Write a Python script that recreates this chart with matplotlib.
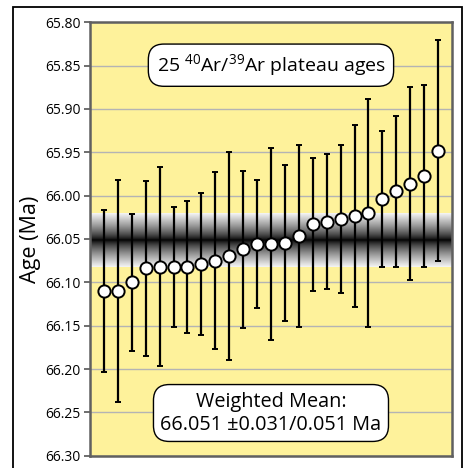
import numpy as np
import matplotlib.pyplot as plt
from matplotlib.patches import Rectangle

plt.rcParams['font.family'] = ['Open Sans', 'DejaVu Sans']
plt.rcParams['mathtext.default'] = 'regular'

# plateau ages (Ma) and 2-sigma errors, sorted
ages = [66.110, 66.110, 66.100, 66.084, 66.082, 66.082, 66.082, 66.079, 66.075,
        66.070, 66.062, 66.056, 66.056, 66.055, 66.047, 66.033, 66.030, 66.027,
        66.024, 66.020, 66.004, 65.995, 65.986, 65.977, 65.948]
errs = [0.094, 0.128, 0.079, 0.101, 0.115, 0.069, 0.076, 0.082, 0.102,
        0.120, 0.091, 0.074, 0.111, 0.090, 0.105, 0.077, 0.078, 0.085,
        0.105, 0.132, 0.078, 0.087, 0.111, 0.105, 0.127]
wmean = 66.051
wm_err = 0.031
yticks = [65.80, 65.85, 65.90, 65.95, 66.00, 66.05, 66.10, 66.15, 66.20, 66.25, 66.30]

n = len(ages)
x = np.arange(1, n + 1)

fig = plt.figure(figsize=(4.65, 4.68), dpi=100)
ax = fig.add_axes([0.1935, 0.0263, 0.7785, 0.9261])
ax.set_facecolor('#fef29b')

# weighted mean band, black in the middle fading to white
t = np.linspace(-1, 1, 200)
shade = np.abs(t) ** 0.75 * 0.96
ax.imshow(shade[:, None], extent=[0, n + 1, wmean + wm_err, wmean - wm_err],
          cmap='gray', vmin=0, vmax=1, aspect='auto', zorder=1.5,
          interpolation='bilinear')

ax.errorbar(x, ages, yerr=errs, fmt='o', color='black', ecolor='black',
            elinewidth=1.6, capsize=2.2, capthick=2, ms=8.8,
            mfc='white', mec='black', mew=1.4, zorder=3)

ax.set_xlim(0, n + 1)
ax.set_ylim(66.30, 65.80)
ax.set_yticks(yticks)
ax.set_yticklabels([f'{v:.2f}' for v in yticks], fontsize=10)
ax.set_xticks([])
ax.yaxis.grid(True, color='#b4b4b4', lw=1)
ax.set_axisbelow(True)
ax.tick_params(axis='y', length=4, width=1.2, color='#555555', pad=3)
for s in ax.spines.values():
    s.set_color('#606060')
    s.set_linewidth(1.8)
ax.set_ylabel('Age (Ma)', fontsize=15.5, labelpad=3)

ax.text(0.5, 0.901, '25 $^{40}$Ar/$^{39}$Ar plateau ages',
        transform=ax.transAxes, ha='center', va='center', fontsize=14,
        bbox=dict(boxstyle='round,pad=0.42,rounding_size=0.8', fc='white',
                  ec='black', lw=1))
ax.text(0.5, 0.0985, 'Weighted Mean:\n66.051 \u00b10.031/0.051 Ma',
        transform=ax.transAxes, ha='center', va='center', fontsize=14.3,
        linespacing=1.2,
        bbox=dict(boxstyle='round,pad=0.35,rounding_size=0.8', fc='white',
                  ec='black', lw=1))

# outer frame
fig.patches.append(Rectangle((13 / 465, -0.05), 449 / 465, 1.05 - 7 / 468,
                             transform=fig.transFigure, fill=False,
                             ec='black', lw=1.3))

fig.savefig('out.png', dpi=100)
